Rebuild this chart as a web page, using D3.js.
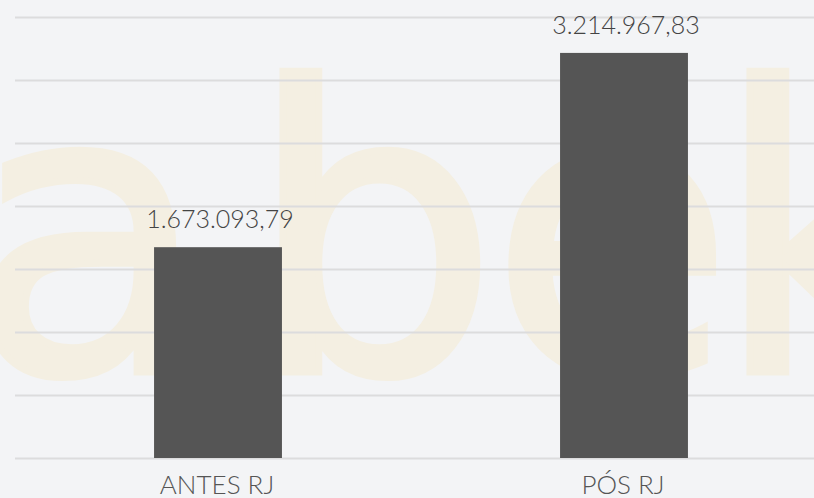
<!DOCTYPE html>
<html>
<head>
<meta charset="utf-8">
<script src="https://cdn.jsdelivr.net/npm/d3@7"></script>
<style>
  html, body { margin: 0; padding: 0; background: #f3f4f6; }
  svg { display: block; }
</style>
</head>
<body>
<div id="chart"></div>
<script>
const categories = ["ANTES RJ", "PÓS RJ"];
const values = [1673093.79, 3214967.83];
const yMax = 3500000;
const yStep = 500000;
const watermarkLetters = ["a", "b", "e", "k"];

const W = 814, H = 498;
const margin = { top: 17, right: -13, bottom: 40, left: 15 };

const ptBR = d3.formatLocale({ decimal: ",", thousands: ".", grouping: [3], currency: ["R$", ""] });
const fmt = ptBR.format(",.2f");

const svg = d3.select("#chart").append("svg")
    .attr("width", W)
    .attr("height", H);

svg.append("rect")
    .attr("width", W)
    .attr("height", H)
    .attr("fill", "#f3f4f6");

// Watermark
const wmX = [-34, 247, 490, 714];
svg.append("text")
    .attr("y", 372)
    .attr("font-family", "DejaVu Sans")
    .attr("font-size", 396)
    .attr("fill", "#f4efe2")
    .attr("stroke", "#f4efe2")
    .attr("stroke-width", 7)
    .selectAll("tspan")
    .data(watermarkLetters)
    .enter().append("tspan")
    .attr("x", (d, i) => wmX[i])
    .text(d => d);

const x = d3.scaleBand()
    .domain(categories)
    .range([margin.left, W - margin.right])
    .paddingInner(0.685)
    .paddingOuter(0.3425);

const y = d3.scaleLinear()
    .domain([0, yMax])
    .range([H - margin.bottom, margin.top]);

// Gridlines
const grid = svg.append("g")
    .attr("transform", `translate(${margin.left},0)`)
    .call(d3.axisLeft(y).tickValues(d3.range(0, yMax + 1, yStep)).tickSize(-(W - margin.left)).tickFormat(""));
grid.select(".domain").remove();
grid.selectAll("line")
    .attr("stroke", "#dcdcdd")
    .attr("stroke-width", 2);

// Bars
svg.selectAll("rect.bar")
    .data(values)
    .enter().append("rect")
    .attr("class", "bar")
    .attr("x", (d, i) => x(categories[i]))
    .attr("y", d => y(d))
    .attr("width", x.bandwidth())
    .attr("height", d => y(0) - y(d))
    .attr("fill", "#555555");

// Value labels
svg.selectAll("text.val")
    .data(values)
    .enter().append("text")
    .attr("class", "val")
    .attr("x", (d, i) => x(categories[i]) + x.bandwidth() / 2 + 2)
    .attr("y", d => y(d) - 19)
    .attr("text-anchor", "middle")
    .attr("font-family", "Lato")
    .attr("font-weight", 300)
    .attr("font-size", 25)
    .attr("fill", "#444444")
    .text(d => fmt(d));

// Category labels
svg.selectAll("text.cat")
    .data(categories)
    .enter().append("text")
    .attr("class", "cat")
    .attr("x", d => x(d) + x.bandwidth() / 2 - 1)
    .attr("y", 494)
    .attr("text-anchor", "middle")
    .attr("font-family", "Lato")
    .attr("font-weight", 300)
    .attr("font-size", 26)
    .attr("fill", "#555555")
    .text(d => d);
</script>
</body>
</html>
